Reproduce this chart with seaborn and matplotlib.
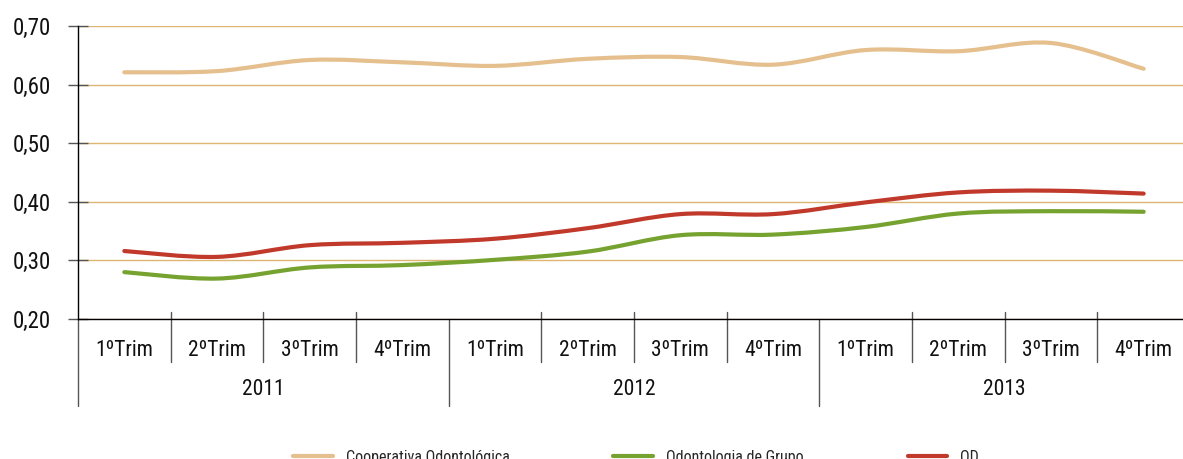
import numpy as np
import pandas as pd
import matplotlib
matplotlib.use("Agg")
import matplotlib.pyplot as plt
import matplotlib.transforms as mtransforms
from matplotlib import font_manager
from matplotlib.path import Path
from matplotlib.patches import PathPatch
from matplotlib.lines import Line2D
import seaborn as sns

# data
anos = ["2011", "2012", "2013"]
trimestres = ["1ºTrim", "2ºTrim", "3ºTrim", "4ºTrim"]
series = ["Cooperativa Odontológica", "Odontologia de Grupo", "OD"]
cooperativa = [0.621, 0.623, 0.642, 0.638, 0.632, 0.644, 0.647, 0.634, 0.659, 0.657, 0.671, 0.627]
grupo = [0.280, 0.269, 0.288, 0.292, 0.301, 0.315, 0.343, 0.344, 0.357, 0.380, 0.384, 0.383]
od = [0.316, 0.306, 0.326, 0.330, 0.337, 0.355, 0.379, 0.379, 0.399, 0.416, 0.419, 0.414]
cores = ["#E5C08E", "#76A22F", "#C0392B"]

labels = [t for a in anos for t in trimestres]
pos = np.arange(len(labels))
df = pd.DataFrame({
    "pos": np.tile(pos, 3),
    "valor": cooperativa + grupo + od,
    "serie": np.repeat(series, len(pos)),
})

sns.set_theme(style="white")
# a narrow face if there is one, else plain Liberation Sans
instaladas = {f.name for f in font_manager.fontManager.ttflist}
familias = [f for f in ["Liberation Sans Narrow", "Roboto Condensed", "Liberation Sans"] if f in instaladas]
plt.rcParams["font.family"] = familias + ["DejaVu Sans"]

fig = plt.figure(figsize=(11.83, 4.59), dpi=100)
ax = fig.add_axes([78 / 1183, 140 / 459, 1112 / 1183, 293 / 459])

sns.lineplot(data=df, x="pos", y="valor", hue="serie", hue_order=series,
             palette=cores, linewidth=3, legend=False, ax=ax)


# smooth the lines like the original (bezier through the data points)
def suave(x, y):
    x = np.asarray(x, float)
    y = np.asarray(y, float)
    px = np.concatenate([[x[0]], x, [x[-1]]])
    py = np.concatenate([[y[0]], y, [y[-1]]])
    verts = [(x[0], y[0])]
    codes = [Path.MOVETO]
    for i in range(1, len(x)):
        c1 = (px[i] + (px[i + 1] - px[i - 1]) / 6, py[i] + (py[i + 1] - py[i - 1]) / 6)
        c2 = (px[i + 1] - (px[i + 2] - px[i]) / 6, py[i + 1] - (py[i + 2] - py[i]) / 6)
        verts += [c1, c2, (px[i + 1], py[i + 1])]
        codes += [Path.CURVE4] * 3
    return Path(verts, codes)


for linha, cor in zip(list(ax.lines), cores):
    xs, ys = linha.get_data()
    ax.add_patch(PathPatch(suave(xs, ys), facecolor="none", edgecolor=cor,
                           lw=3, capstyle="round", zorder=3))
    linha.set_visible(False)

ax.set_xlim(-0.5, 11.5)
ax.set_ylim(0.2, 0.7)
ax.set_yticks([0.2, 0.3, 0.4, 0.5, 0.6, 0.7])
ax.set_yticklabels([f"{v:.2f}".replace(".", ",") for v in [0.2, 0.3, 0.4, 0.5, 0.6, 0.7]])
ax.yaxis.grid(True, color="#DDB672", linewidth=1)
ax.set_axisbelow(True)
ax.tick_params(axis="y", direction="inout", length=15, width=1, color="#555555",
               labelsize=16.5, pad=12, left=True, labelcolor="#111111")
for s in ["top", "right"]:
    ax.spines[s].set_visible(False)
for s in ["left", "bottom"]:
    ax.spines[s].set_color("black")
    ax.spines[s].set_linewidth(1)

ax.set_xticks(pos)
ax.set_xticklabels(labels)
ax.tick_params(axis="x", length=0, labelsize=15.5, pad=15, labelcolor="#111111")
ax.set_xlabel("")
ax.set_ylabel("")

# category separators and year labels
trans = mtransforms.blended_transform_factory(ax.transData, ax.transAxes)
for b in np.arange(-0.5, 12, 1):
    if b in (-0.5, 3.5, 7.5):
        ax.plot([b, b], [0.0, -0.297], color="#555555", lw=1, transform=trans, clip_on=False)
    else:
        ax.plot([b, b], [0.024, -0.147], color="#555555", lw=1, transform=trans, clip_on=False)
for i, a in enumerate(anos):
    ax.text(i * 4 + 1.5, -0.239, a, transform=trans, ha="center", va="center",
            fontsize=15.5, color="#111111")

handles = [Line2D([], [], color=c, lw=3) for c in cores]
fig.legend(handles, series, loc="upper left", bbox_to_anchor=(293 / 1183, 9 / 459),
           ncol=3, frameon=False, fontsize=11.5, handlelength=2.5, handletextpad=0.8,
           columnspacing=6.5, borderpad=0, borderaxespad=0)

fig.savefig("out.png", dpi=100)
